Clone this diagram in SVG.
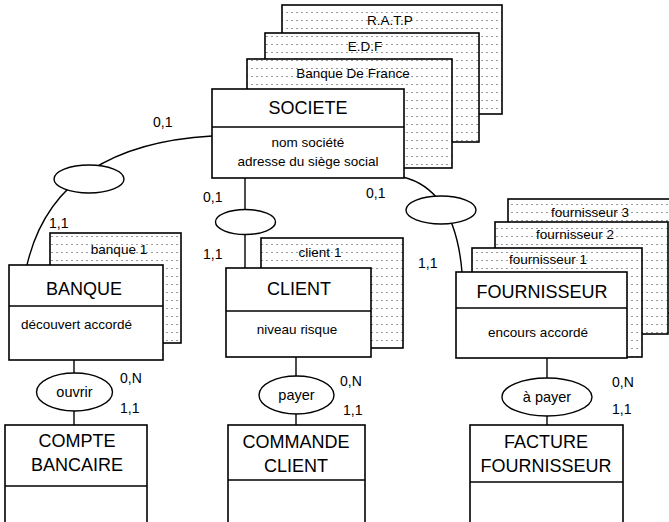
<svg xmlns="http://www.w3.org/2000/svg" width="669" height="522" viewBox="0 0 669 522">
<defs>
<pattern id="dots" patternUnits="userSpaceOnUse" width="5" height="8">
<rect x="0" y="0" width="5" height="8" fill="#ffffff"/>
<rect x="1" y="4" width="2" height="1" fill="#9a9a9a"/>
</pattern>
</defs>
<style>
.card{fill:url(#dots);stroke:#000;stroke-width:1.6}
.box{fill:#fff;stroke:#000;stroke-width:1.6}
.div{stroke:#000;stroke-width:1.4;fill:none}
.conn{stroke:#000;stroke-width:1.4;fill:none}
.ell{fill:#fff;stroke:#000;stroke-width:1.4}
text{font-family:"Liberation Sans",Arial,sans-serif;fill:#000}
.t{font-size:18px;text-anchor:middle}
.s{font-size:13.5px;text-anchor:middle}
.c{font-size:14px}
</style>
<g id="connectors">
<path class="conn" d="M212,136 Q55,145 27,265"/>
<path class="conn" d="M403,177 Q455,190 462,272"/>
<line class="conn" x1="245" y1="178" x2="245" y2="268"/>
<line class="conn" x1="74" y1="360" x2="74" y2="425"/>
<line class="conn" x1="296" y1="357" x2="296" y2="425"/>
<line class="conn" x1="547" y1="358" x2="547" y2="425"/>
</g>
<g id="card-ratp"><rect class="card" x="282" y="5" width="220" height="109"/><text class="s" x="390" y="25">R.A.T.P</text></g>
<g id="card-edf"><rect class="card" x="265" y="33" width="214" height="109"/><text class="s" x="365" y="51">E.D.F</text></g>
<g id="card-bdf"><rect class="card" x="247" y="59" width="205" height="109"/><text class="s" x="353" y="78">Banque De France</text></g>
<g id="societe">
<rect class="box" x="212" y="89" width="192" height="89"/>
<line class="div" x1="212" y1="127" x2="404" y2="127"/>
<text class="t" x="308" y="114">SOCIETE</text>
<text class="s" x="308" y="147">nom société</text>
<text class="s" x="308" y="166">adresse du siège social</text>
</g>
<g id="card-banque1"><rect class="card" x="50" y="233" width="131" height="110"/><text class="s" x="119" y="254">banque 1</text></g>
<g id="banque">
<rect class="box" x="9" y="265" width="154" height="95"/>
<line class="div" x1="9" y1="306" x2="163" y2="306"/>
<text class="t" x="84" y="295">BANQUE</text>
<text class="s" x="21" y="329" style="text-anchor:start">découvert accordé</text>
</g>
<g id="card-client1"><rect class="card" x="261" y="238" width="142" height="110"/><text class="s" x="320" y="257">client 1</text></g>
<g id="client">
<rect class="box" x="226" y="268" width="145" height="89"/>
<line class="div" x1="226" y1="311" x2="371" y2="311"/>
<text class="t" x="299" y="295">CLIENT</text>
<text class="s" x="297" y="334">niveau risque</text>
</g>
<g id="card-fourn3"><rect class="card" x="508" y="199" width="175" height="114"/><text class="s" x="590" y="217">fournisseur 3</text></g>
<g id="card-fourn2"><rect class="card" x="495" y="222" width="173" height="112"/><text class="s" x="575" y="239">fournisseur 2</text></g>
<g id="card-fourn1"><rect class="card" x="472" y="248" width="170" height="109"/><text class="s" x="548" y="264">fournisseur 1</text></g>
<g id="fournisseur">
<rect class="box" x="456" y="272" width="171" height="86"/>
<line class="div" x1="456" y1="308" x2="627" y2="308"/>
<text class="t" x="542" y="298">FOURNISSEUR</text>
<text class="s" x="538" y="337">encours accordé</text>
</g>
<g id="assoc-left"><ellipse class="ell" cx="89" cy="179" rx="35" ry="14"/></g>
<g id="assoc-mid"><ellipse class="ell" cx="245.5" cy="222" rx="30" ry="12.5"/></g>
<g id="assoc-right"><ellipse class="ell" cx="441" cy="210" rx="35" ry="14"/></g>
<g id="ouvrir"><ellipse class="ell" cx="74.5" cy="392" rx="38" ry="19"/><text class="s" x="74.5" y="397" style="font-size:14.5px">ouvrir</text></g>
<g id="payer"><ellipse class="ell" cx="296.5" cy="395" rx="37.5" ry="19"/><text class="s" x="296.5" y="400" style="font-size:14.5px">payer</text></g>
<g id="apayer"><ellipse class="ell" cx="547" cy="397" rx="45" ry="19"/><text class="s" x="547" y="402" style="font-size:14.5px">à payer</text></g>
<g id="compte">
<rect class="box" x="5" y="425" width="142" height="105"/>
<line class="div" x1="5" y1="486" x2="147" y2="486"/>
<text class="t" x="77" y="447">COMPTE</text>
<text class="t" x="77" y="471">BANCAIRE</text>
</g>
<g id="commande">
<rect class="box" x="228" y="425" width="137" height="105"/>
<line class="div" x1="228" y1="480" x2="365" y2="480"/>
<text class="t" x="296" y="448">COMMANDE</text>
<text class="t" x="296" y="472">CLIENT</text>
</g>
<g id="facture">
<rect class="box" x="470" y="425" width="153" height="105"/>
<line class="div" x1="470" y1="482" x2="623" y2="482"/>
<text class="t" x="546" y="448">FACTURE</text>
<text class="t" x="546" y="472">FOURNISSEUR</text>
</g>
<g id="labels">
<text class="c" x="153" y="127">0,1</text>
<text class="c" x="49" y="228">1,1</text>
<text class="c" x="203" y="202">0,1</text>
<text class="c" x="203" y="259">1,1</text>
<text class="c" x="366" y="198">0,1</text>
<text class="c" x="418" y="268">1,1</text>
<text class="c" x="120" y="383">0,N</text>
<text class="c" x="120" y="413">1,1</text>
<text class="c" x="340" y="386">0,N</text>
<text class="c" x="343" y="415">1,1</text>
<text class="c" x="612" y="387">0,N</text>
<text class="c" x="612" y="414">1,1</text>
</g>
</svg>
